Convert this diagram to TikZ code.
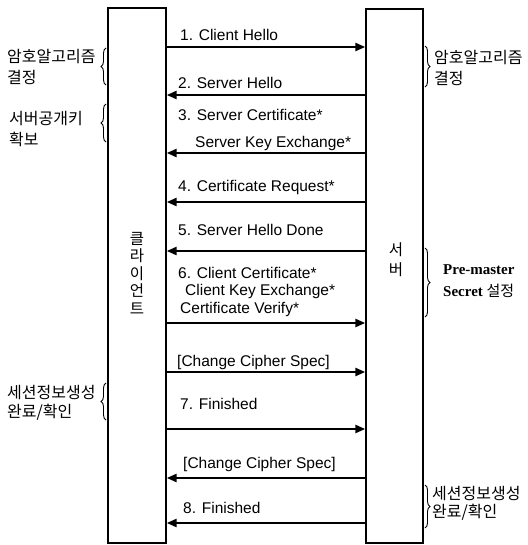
\documentclass[tikz,border=0pt]{standalone}
\usepackage{fontspec}
\setmainfont{Liberation Sans}
\newfontfamily\krfont{Noto Sans CJK KR}
\newfontfamily\pmfont{Liberation Serif}
\usetikzlibrary{arrows.meta,decorations.pathreplacing}
\tikzset{
  box/.style={draw,line width=1.4pt,inner sep=0pt},
  msg/.style={line width=2.4pt,-{Triangle[length=10pt,width=8pt]}},
  msgback/.style={line width=2.4pt,{Triangle[length=10pt,width=8pt]}-},
  lbl/.style={anchor=base west,inner sep=0pt,font=\fontsize{15.5}{18}\selectfont},
  note/.style={anchor=west,inner sep=0pt,align=left,font=\krfont\fontsize{16}{21}\selectfont},
  brc/.style={decorate,decoration={brace,amplitude=5pt},line width=0.9pt},
}
\begin{document}
\begin{tikzpicture}[x=1pt,y=-1pt]
  \useasboundingbox (0,0) rectangle (527,545);

  % the two parties
  \node[box,minimum width=58pt,minimum height=535pt] (client) at (137,275.5) {};
  \node[box,minimum width=57pt,minimum height=534pt] (server) at (394.5,276) {};
  \node[font=\krfont\fontsize{15.5}{17.5}\selectfont,align=center] (clientname) at (137,273) {클\\라\\이\\언\\트};
  \node[font=\krfont\fontsize{15.5}{20}\selectfont,align=center] (servername) at (396,260) {서\\버};

  % messages
  \node[lbl] (chello) at (180,41) {1. Client Hello};
  \node[lbl] (shello) at (178,89) {2. Server Hello};
  \node[lbl] (scert) at (178,121) {3. Server Certificate*};
  \node[lbl] (skey) at (195,148) {Server Key Exchange*};
  \node[lbl] (creq) at (178,192) {4. Certificate Request*};
  \node[lbl] (sdone) at (178,235) {5. Server Hello Done};
  \node[lbl] (ccert) at (178,278) {6. Client Certificate*};
  \node[lbl] (ckey) at (185,295) {Client Key Exchange*};
  \node[lbl] (cverify) at (180,313) {Certificate Verify*};
  \node[lbl] (cspec) at (177,366) {[Change Cipher Spec]};
  \node[lbl] (cfin) at (180,409) {7. Finished};
  \node[lbl] (sspec) at (183,468) {[Change Cipher Spec]};
  \node[lbl] (sfin) at (183,513) {8. Finished};

  \draw[msg] (client.east |- 0,47) -- (server.west |- 0,47);
  \draw[msgback] (client.east |- 0,95) -- (server.west |- 0,95);
  \draw[msgback] (client.east |- 0,153) -- (server.west |- 0,153);
  \draw[msgback] (client.east |- 0,202) -- (server.west |- 0,202);
  \draw[msgback] (client.east |- 0,251) -- (server.west |- 0,251);
  \draw[msg] (client.east |- 0,323) -- (server.west |- 0,323);
  \draw[msg] (client.east |- 0,372) -- (server.west |- 0,372);
  \draw[msg] (client.east |- 0,429) -- (server.west |- 0,429);
  \draw[msgback] (client.east |- 0,478) -- (server.west |- 0,478);
  \draw[msgback] (client.east |- 0,523) -- (server.west |- 0,523);

  % side notes
  \node[note] (algoL) at (7,67) {암호알고리즘\\결정};
  \node[note] (keyL) at (9,129) {서버공개키\\확보};
  \node[note,font=\krfont\fontsize{16}{19}\selectfont] (sessL) at (7,403) {세션정보생성\\완료/확인};
  \node[note] (algoR) at (434,68) {암호알고리즘\\결정};
  \node[note,font=\pmfont\bfseries\fontsize{15}{22}\selectfont] (preR) at (443,281) {Pre-master\\Secret {\krfont\mdseries 설정}};
  \node[note,font=\krfont\fontsize{16}{18}\selectfont] (sessR) at (432,503) {세션정보생성\\완료/확인};

  \draw[brc] (106,85) -- (106,48);
  \draw[brc] (106,142) -- (106,104);
  \draw[brc] (106,420) -- (106,383);
  \draw[brc] (425,46) -- (425,87);
  \draw[brc] (425,248) -- (425,317);
  \draw[brc] (425,485) -- (425,528);
\end{tikzpicture}
\end{document}
